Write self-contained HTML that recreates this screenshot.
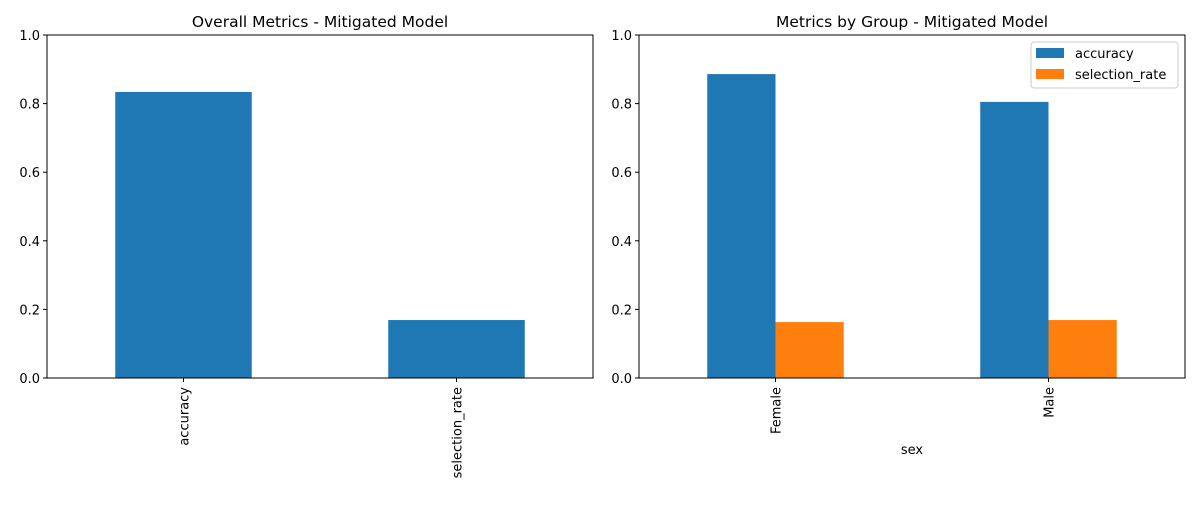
<!DOCTYPE html>
<html><head><meta charset="utf-8"><style>
body{margin:0;background:#fff;font-family:"Liberation Sans","DejaVu Sans",sans-serif}
svg text{font-family:"DejaVu Sans","Liberation Sans",sans-serif;fill:#000}
</style></head><body>
<svg id="c" width="1200" height="500"></svg>
<script>
const leftCats=["accuracy","selection_rate"];
const leftVals=[0.834,0.169];
const rightCats=["Female","Male"];
const accVals=[0.886,0.805];
const selVals=[0.163,0.169];
const yTicks=[0,0.2,0.4,0.6,0.8,1.0];
const yTickLabels=["0.0","0.2","0.4","0.6","0.8","1.0"];
const seriesNames=["accuracy","selection_rate"];
const colors=["#1f77b4","#ff7f0e"];
const svg=document.getElementById('c');
const NS="http://www.w3.org/2000/svg";
function el(t,a,p){const e=document.createElementNS(NS,t);for(const k in a)e.setAttribute(k,a[k]);(p||svg).appendChild(e);return e;}
const plotTop=35,plotBot=378;
const y=v=>plotBot-v*(plotBot-plotTop);
function axes(x0,x1,title,cats,series,xlabel,name){
  const g=el('g',{});
  
  
  const n=cats.length, sp=(x1-x0)/n;
  const xc=i=>x0+sp*(i+0.5);
  const ns=series.length, bw=sp*0.5/ns;
  series.forEach((vals,s)=>{
    vals.forEach((v,i)=>{
      const bx=xc(i)-sp*0.25+s*bw;
      const r=el('rect',{x:bx,y:y(v),width:bw,height:plotBot-y(v),fill:colors[s]},g);
      
      
    });
  });
  const fr=el('rect',{x:x0,y:plotTop,width:x1-x0,height:plotBot-plotTop,fill:'none',stroke:'#000','stroke-width':1},g);
  
  
  yTicks.forEach((t,i)=>{
    el('line',{x1:x0-4,x2:x0,y1:y(t),y2:y(t),stroke:'#000'},g);
    const tx=el('text',{x:x0-7,y:y(t)+5,'text-anchor':'end','font-size':13},g);
    tx.textContent=yTickLabels[i];
    
    
  });
  cats.forEach((c,i)=>{
    el('line',{x1:xc(i),x2:xc(i),y1:plotBot,y2:plotBot+4,stroke:'#000'},g);
    const tx=el('text',{x:0,y:0,'text-anchor':'end','font-size':13,transform:`translate(${xc(i)+5},${plotBot+9}) rotate(-90)`},g);
    tx.textContent=c;
    
    
  });
  const tt=el('text',{x:(x0+x1)/2,y:27,'text-anchor':'middle','font-size':15.5},g);
  tt.textContent=title;
  
  
  if(xlabel){
    const xl=el('text',{x:(x0+x1)/2,y:454,'text-anchor':'middle','font-size':13},g);
    xl.textContent=xlabel;
    
    
  }
}
axes(47,593,"Overall Metrics - Mitigated Model",leftCats,[leftVals],null,"overall-metrics-panel");
axes(639,1185,"Metrics by Group - Mitigated Model",rightCats,[accVals,selVals],"sex","group-metrics-panel");
const lg=el('g',{});


el('rect',{x:1031,y:42,width:147,height:46,rx:3,fill:'#fff',stroke:'#ccc'},lg);
seriesNames.forEach((s,i)=>{
  el('rect',{x:1036,y:48+i*21,width:28,height:10,fill:colors[i]},lg);
  const t=el('text',{x:1075,y:58+i*21,'font-size':13},lg);
  t.textContent=s;
  
  
});
</script>
</body></html>
